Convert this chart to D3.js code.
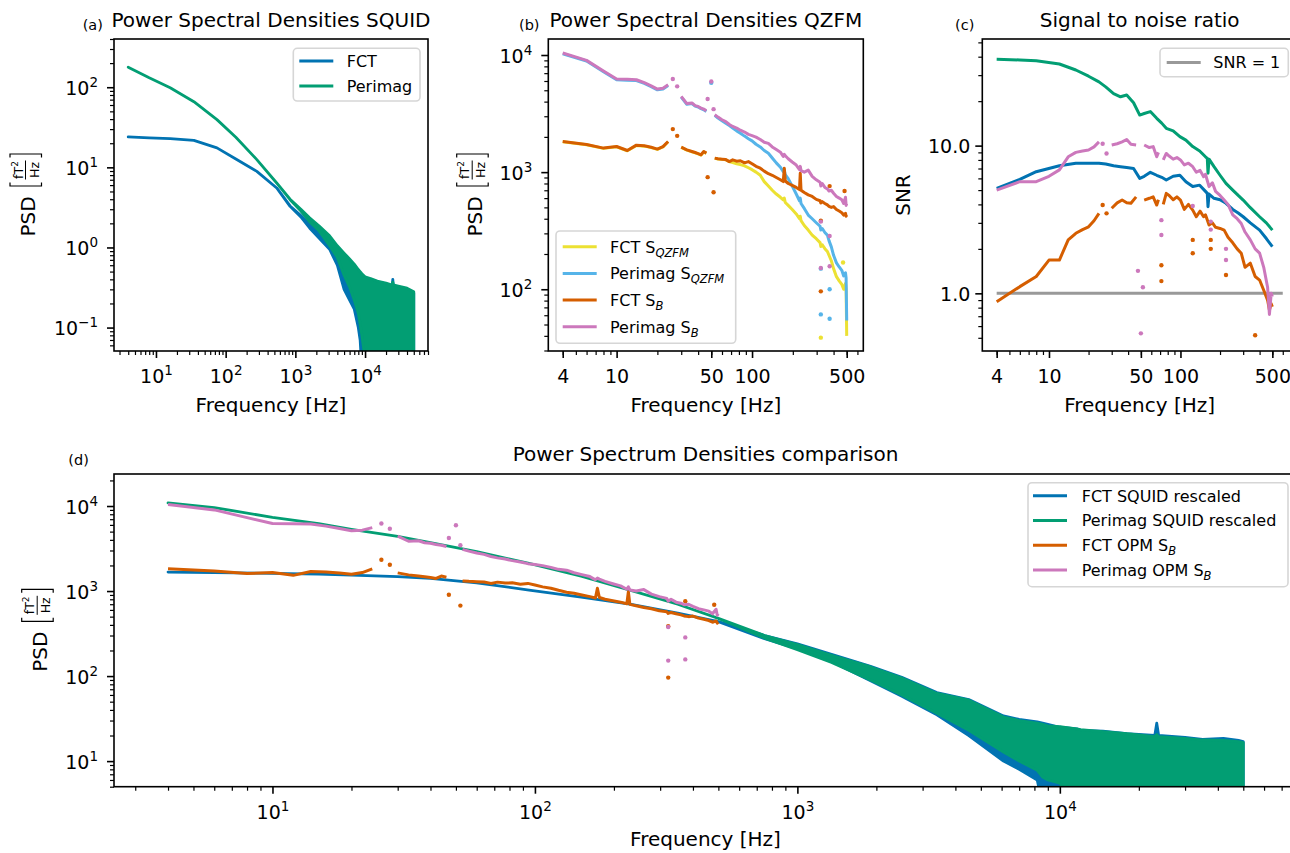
<!DOCTYPE html>
<html>
<head>
<meta charset="utf-8">
<script src="https://cdn.jsdelivr.net/npm/d3@7"></script>
<style>
  body { margin: 0; background: #fff; }
  svg { display: block; font-family: "DejaVu Sans", sans-serif; }
</style>
</head>
<body>
<svg id="fig"></svg>
<script>
// ---------- data ----------

// (a) SQUID PSDs, envelope of the noisy traces [fT^2/Hz]
var sqFreqA = [4, 8, 16, 35, 75, 140, 280, 540, 840, 1200, 1600, 2200, 3100, 4000, 5000,
               6000, 7000, 8000, 8500, 9000, 10000, 12000, 15000, 20000, 24500, 25000, 25500, 30000, 40000, 50000];
var fctSquidAHi = [24, 23.3, 22.8, 21.7, 17.5, 12.7, 8.9, 5.53, 3.3, 2.5, 1.95, 1.6, 1.3, 1.0, 0.8,
                   0.68, 0.58, 0.5, 0.48, 0.45, 0.41, 0.39, 0.36, 0.34, 0.33, 0.40, 0.33, 0.31, 0.29, 0.27];
var fctSquidALo = [24, 23.3, 22.8, 21.7, 17.5, 12.7, 8.9, 5.53, 3.26, 2.4, 1.75, 1.3, 0.95, 0.6, 0.3,
                   0.22, 0.17, 0.1, 0.07, 0.03, 0.03, 0.03, 0.03, 0.03, 0.03, 0.03, 0.03, 0.03, 0.03, 0.03];
var perimagSquidAHi = [178, 131, 98.4, 66, 39.4, 23.8, 12.5, 6.38, 4.0, 3.0, 2.35, 1.85, 1.4, 1.05, 0.85,
                       0.72, 0.62, 0.53, 0.5, 0.47, 0.43, 0.41, 0.38, 0.36, 0.34, 0.37, 0.34, 0.33, 0.31, 0.28];
var perimagSquidALo = [178, 131, 98.4, 66, 39.4, 23.8, 12.5, 6.38, 3.95, 2.85, 2.1, 1.6, 1.05, 0.75, 0.45,
                       0.32, 0.22, 0.15, 0.11, 0.08, 0.04, 0.04, 0.04, 0.04, 0.04, 0.04, 0.04, 0.04, 0.04, 0.04];

// (b) OPM PSDs (null = gap in the trace) [fT^2/Hz]
var opmFreq = [4, 6, 8, 10, 12, 14, 16, 18, 20, 22, 24, 25,
               30, 33, 36, 38, 40, 42, 44, 46, 47,
               53, 56, 60, 64, 68, 72, 77, 82, 88, 94, 100,
               107, 115, 123, 132, 141, 151, 162, 170, 173, 176,
               185, 198, 212, 224, 227, 230, 243, 260, 278, 298,
               318, 322, 330, 345, 360, 370, 385, 400, 420, 440,
               460, 475, 490, 495, 500];
var qzfmFct = [1815, 1710, 1595, 1645, 1520, 1690, 1667, 1620, 1563, 1640, 1815, null,
               1625, 1540, 1490, 1460, 1430, 1398, 1490, 1445, null,
               1310, 1295, 1285, 1275, 1225, 1208, 1180, 1160, 1130, 1090, 1050,
               1000, 940, 830, 760, 700, 650, 610, 580, 600, 550,
               520, 480, 440, 400, 420, 385, 350, 320, 290, 270,
               250, 232, 240, 222, 210, 195, 175, 150, 128, 118,
               110, 100, 112, 100, 40];
var qzfmPerimag = [10250, 8880, 7200, 6150, 6100, 6050, 5720, 5370, 5040, 5120, 5480, null,
                   4380, 3800, 3850, 3660, 3600, 3480, 3410, 3300, null,
                   3050, 2900, 2750, 2620, 2500, 2380, 2250, 2150, 2030, 1930, 1850,
                   1730, 1640, 1530, 1450, 1320, 1200, 1100, 1010, 1040, 950,
                   880, 760, 650, 570, 600, 540, 490, 430, 400, 370,
                   345, 320, 330, 305, 290, 260, 230, 195, 168, 155,
                   145, 130, 138, 125, 54];
var sbFct = [1826, 1720, 1604, 1655, 1530, 1700, 1677, 1630, 1573, 1650, 1826, null,
             1635, 1550, 1500, 1470, 1440, 1406, 1500, 1453, null,
             1317, 1300, 1290, 1280, 1230, 1273, 1240, 1250, 1200, 1230, 1180,
             1120, 1080, 1020, 970, 940, 900, 860, 830, 1080, 840,
             800, 770, 740, 710, 980, 700, 670, 640, 620, 585,
             570, 545, 560, 540, 525, 510, 500, 508, 480, 465,
             450, 430, 445, 420, 432];
var sbPerimag = [10400, 9000, 7300, 6240, 6200, 6150, 5800, 5450, 5120, 5200, 5570, null,
                 4430, 3850, 3900, 3700, 3640, 3520, 3450, 3340, null,
                 3090, 2950, 2800, 2700, 2550, 2455, 2380, 2280, 2200, 2100, 2050,
                 1990, 1900, 1800, 1760, 1640, 1560, 1480, 1360, 1420, 1380,
                 1300, 1220, 1150, 1050, 1120, 1030, 1000, 1040, 920, 860,
                 820, 760, 800, 740, 720, 690, 700, 660, 620, 600,
                 580, 540, 610, 520, 540];
// isolated samples drawn as dots
var qzfmFctDotF = [322, 470];
var qzfmFctDotV = [38.6, 169];
var qzfmPerimagDotF = [50, 322, 322, 374, 374];
var qzfmPerimagDotV = [5800, 150, 61, 100, 56];
var sbFctDotF = [26, 28, 47, 52, 322, 322, 374, 482];
var sbFctDotV = [2330, 2040, 906, 674, 385, 96, 760, 690];
var sbPerimagDotF = [26, 28, 47, 50, 52, 322, 322, 374, 374];
var sbPerimagDotV = [6240, 5400, 4210, 5940, 3450, 378, 152, 285, 157];

// (c) signal to noise ratio
var snrSquidFreq = [4, 6, 8, 12, 16, 20, 24, 27, 31, 35, 39, 44, 49, 53, 59, 66, 72, 78, 88, 99,
                    110, 124, 140, 155, 160, 162, 165, 180, 200, 222, 250, 275, 300, 340, 400, 450, 500];
var snrFctSquid = [5.14, 5.9, 6.66, 7.3, 7.6, 7.6, 7.6, 7.5, 7.3, 7.2, 7.1, 7.0, 6.0, 6.2, 6.6, 6.3, 6.1, 5.85, 6.2, 6.3,
                   5.7, 5.28, 5.4, 4.9, 4.75, 3.86, 4.7, 4.4, 4.3, 4.07, 3.7, 3.5, 3.3, 3.0, 2.68, 2.35, 2.07];
var snrPerimagSquid = [38.4, 38, 37.5, 35.7, 32.5, 29.5, 27, 25, 22.5, 21.4, 22, 19.5, 16.1, 16.5, 17, 15.3, 14.2, 13.1, 12.6, 11.5,
                       10.9, 9.85, 9.2, 8.4, 8.2, 6.5, 8.1, 7.2, 6.3, 5.55, 5.0, 4.6, 4.28, 3.8, 3.3, 3.0, 2.68];
var snrOpmFreq = [4, 6, 8, 10, 12, 14, 16, 18, 20, 22, 24, 25,
                  30, 33, 36, 39, 42, 46, 47,
                  53, 58, 62, 66, 68, 69,
                  74, 78, 82, 88, 94, 100,
                  107, 115, 124, 132, 141, 150,
                  155, 165, 175, 185, 200,
                  215, 230, 250, 270, 290,
                  310, 340, 370, 400, 430,
                  460, 475, 490, 500];
var snrFctOpm = [0.877, 1.11, 1.3, 1.68, 1.68, 2.3, 2.55, 2.7, 2.82, 3.1, 3.48, null,
                 3.77, 4.1, 4.28, 4.1, 4.07, 4.5, null,
                 4.28, 4.4, 4.5, 3.96, 4.3, null,
                 4.0, 4.75, 4.6, 4.3, 4.5, 4.28,
                 3.7, 4.0, 3.66, 3.3, 3.6, 3.3,
                 3.4, 2.9, 3.0, 2.8, 2.75,
                 2.68, 2.4, 2.2, 2.0, 1.87,
                 1.5, 1.6, 1.3, 1.23, 1.05,
                 0.9, 0.77, 0.85, 0.81];
var snrPerimagOpm = [5.0, 5.7, 5.7, 6.2, 6.85, 8.4, 9.0, 9.2, 9.34, 9.8, 10.6, null,
                     10.1, 10.3, 10.6, 11.0, 10.2, 10.1, null,
                     10.1, 9.7, 9.85, 8.4, 9.0, null,
                     8.0, 8.85, 8.5, 8.1, 8.3, 8.0,
                     7.4, 7.6, 7.2, 6.6, 6.8, 6.16,
                     6.4, 5.28, 5.6, 4.9, 4.6,
                     4.28, 4.0, 3.4, 3.2, 2.97,
                     2.6, 2.3, 2.0, 1.87, 1.5,
                     1.1, 0.72, 1.0, 0.95];
var snrFctDotF = [25.6, 27.4, 71.6, 71.6, 124, 124, 170, 170, 222, 370];
var snrFctDotV = [3.96, 3.48, 1.55, 1.21, 2.3, 1.87, 2.3, 2.0, 1.33, 0.52];
var snrPerimagDotF = [25.6, 27.4, 47.5, 50, 51.8, 71.6, 71.6, 124, 170, 170, 222, 222];
var snrPerimagDotV = [10.3, 8.85, 1.42, 0.536, 1.1, 3.13, 2.48, 3.9, 3.06, 2.7, 2.0, 1.68];
var snrOneF = [4, 600];
var snrOneV = [1, 1];

// (d) rescaled SQUID envelopes [fT^2/Hz]
var sqFreqD = [4, 6, 10, 15, 20, 30, 40, 60, 95, 150, 230, 350, 500, 750, 1000, 1350, 1900, 2500, 3400, 4500,
               6100, 7000, 8200, 8600, 9000, 10000, 11600, 12000, 14600, 18000, 23000, 23400, 23800, 30000, 35000,
               42000, 48000, 50000];
var fctSquidDHi = [1673, 1650, 1615, 1580, 1542, 1480, 1410, 1250, 1027, 850, 703, 550, 436, 300, 240, 180, 130, 97, 64, 53,
                   34, 31, 29, 28, 27, 25, 24, 23, 22.5, 21, 20, 27.9, 20, 19, 18, 18.5, 17.5, 17];
var fctSquidDLo = [1673, 1650, 1615, 1580, 1542, 1480, 1410, 1250, 1027, 850, 703, 550, 436, 275, 210, 148, 88, 58, 35, 20,
                   10, 8, 6, 3, 3, 3, 3, 3, 3, 3, 3, 3, 3, 3, 3, 3, 3, 3];
var perimagSquidDHi = [10900, 9600, 7360, 6200, 5320, 4400, 3700, 2900, 2120, 1500, 1027, 700, 477, 300, 235, 175, 128, 95, 62.5, 52,
                       33, 30, 27.9, 27, 26, 25.4, 24, 23.5, 22.2, 21, 19.4, 20.5, 19.4, 18.5, 17.7, 17.5, 16.9, 16.5];
var perimagSquidDLo = [10900, 9600, 7360, 6200, 5320, 4400, 3700, 2900, 2120, 1500, 1027, 700, 477, 280, 205, 145, 90, 60, 36.5, 23,
                       12.8, 10, 7.8, 6.5, 6, 5.5, 3, 3, 3, 3, 3, 3, 3, 3, 3, 3, 3, 3];

var titles = ["Power Spectral Densities SQUID", "Power Spectral Densities QZFM", "Signal to noise ratio",
              "Power Spectrum Densities comparison"];
var tags = ["(a)", "(b)", "(c)", "(d)"];

// ---------- drawing ----------
var W = 1290, H = 853;
var cBlue = "#0173b2", cGreen = "#029e73", cOrange = "#d55e00", cPink = "#cc78bc",
    cYellow = "#ece133", cSky = "#56b4e9", cGray = "#999999";

var svg = d3.select("#fig").attr("width", W).attr("height", H);

function panel(id, box, xDom, yDom) {
  var x = d3.scaleLog().domain(xDom).range([box.l, box.r]);
  var y = d3.scaleLog().domain(yDom).range([box.b, box.t]);
  svg.append("clipPath").attr("id", "clip-" + id).append("rect")
    .attr("x", box.l).attr("y", box.t).attr("width", box.r - box.l).attr("height", box.b - box.t);
  var plot = svg.append("g").attr("clip-path", "url(#clip-" + id + ")");
  return { x: x, y: y, plot: plot, box: box };
}

function pts(fs, vs) { return fs.map(function(f, i) { return { f: f, v: vs[i] }; }); }

function drawLine(p, fs, vs, color) {
  p.plot.append("path").datum(pts(fs, vs))
    .attr("fill", "none").attr("stroke", color).attr("stroke-width", 3)
    .attr("stroke-linejoin", "round")
    .attr("d", d3.line().defined(function(d) { return d.v != null; })
      .x(function(d) { return p.x(d.f); }).y(function(d) { return p.y(d.v); }));
}

function drawBand(p, fs, lo, hi, color) {
  var data = fs.map(function(f, i) { return { f: f, lo: lo[i], hi: hi[i] }; });
  p.plot.append("path").datum(data)
    .attr("fill", color).attr("stroke", color).attr("stroke-width", 2.8)
    .attr("stroke-linejoin", "round")
    .attr("d", d3.area().x(function(d) { return p.x(d.f); })
      .y0(function(d) { return p.y(d.lo); }).y1(function(d) { return p.y(d.hi); }));
}

function drawDots(p, fs, vs, color) {
  p.plot.append("g").selectAll("circle").data(pts(fs, vs)).enter().append("circle")
    .attr("cx", function(d) { return p.x(d.f); }).attr("cy", function(d) { return p.y(d.v); })
    .attr("r", 2.2).attr("fill", color);
}

function minorTicks(dom) {
  var out = [];
  for (var e = Math.floor(Math.log10(dom[0])); e <= Math.ceil(Math.log10(dom[1])); e++) {
    for (var k = 2; k <= 9; k++) {
      var v = k * Math.pow(10, e);
      if (v >= dom[0] && v <= dom[1]) out.push(v);
    }
  }
  return out;
}

function styleAxis(g, width) {
  g.select(".domain").remove();
  g.attr("font-size", 19).attr("font-family", "DejaVu Sans, sans-serif");
  g.selectAll(".tick line").attr("stroke", "#000").attr("stroke-width", width);
  g.selectAll(".tick text").attr("fill", "#000");
}

function mathText(sel) {
  sel.each(function(d) {
    var e = Math.round(Math.log10(d));
    var t = d3.select(this).text(null);
    t.append("tspan").text("10");
    t.append("tspan").attr("dy", -8).attr("font-size", 13.5).text((e < 0 ? "\u2212" : "") + Math.abs(e));
  });
}

function drawAxes(p, xMajor, xFmt, yMajor, yFmt) {
  var b = p.box;
  svg.append("g").attr("transform", "translate(0," + b.b + ")")
    .call(d3.axisBottom(p.x).tickValues(minorTicks(p.x.domain())).tickSize(4).tickFormat(function() { return ""; }))
    .call(styleAxis, 1.2);
  var gx = svg.append("g").attr("transform", "translate(0," + b.b + ")")
    .call(d3.axisBottom(p.x).tickValues(xMajor).tickSize(7).tickPadding(11.5)
      .tickFormat(xFmt || function() { return ""; }))
    .call(styleAxis, 1.6);
  if (!xFmt) gx.selectAll(".tick text").call(mathText);

  svg.append("g").attr("transform", "translate(" + b.l + ",0)")
    .call(d3.axisLeft(p.y).tickValues(minorTicks(p.y.domain())).tickSize(4).tickFormat(function() { return ""; }))
    .call(styleAxis, 1.2);
  var gy = svg.append("g").attr("transform", "translate(" + b.l + ",0)")
    .call(d3.axisLeft(p.y).tickValues(yMajor).tickSize(7).tickPadding(yFmt ? 5 : 9)
      .tickFormat(yFmt || function() { return ""; }))
    .call(styleAxis, 1.6);
  gy.selectAll(".tick text").attr("dy", "0.37em");
  if (!yFmt) gy.selectAll(".tick text").call(mathText);

  svg.append("rect").attr("x", b.l).attr("y", b.t).attr("width", b.r - b.l).attr("height", b.b - b.t)
    .attr("fill", "none").attr("stroke", "#000").attr("stroke-width", 1.6);
}

function texts(p, i, tagX, tagY, titleY, xlabY) {
  var b = p.box, cx = (b.l + b.r) / 2;
  svg.append("text").attr("x", cx).attr("y", titleY).attr("text-anchor", "middle")
    .attr("font-size", 20).text(titles[i]);
  svg.append("text").attr("x", tagX).attr("y", tagY).attr("font-size", 14.5).text(tags[i]);
  svg.append("text").attr("x", cx).attr("y", xlabY).attr("text-anchor", "middle")
    .attr("font-size", 20).text("Frequency [Hz]");
}

function psdLabel(bx, cy) {
  var g = svg.append("g").attr("transform", "translate(" + bx + "," + cy + ") rotate(-90)");
  g.append("text").attr("x", -41.5).attr("y", 0).attr("font-size", 20).text("PSD");
  g.append("path").attr("d", "M12.5,-25H9V6.5H12.5").attr("fill", "none").attr("stroke", "#000").attr("stroke-width", 1.2);
  g.append("path").attr("d", "M37.5,-25H41V6.5H37.5").attr("fill", "none").attr("stroke", "#000").attr("stroke-width", 1.2);
  var num = g.append("text").attr("x", 25).attr("y", -12.5).attr("text-anchor", "middle").attr("font-size", 12.5);
  num.append("tspan").text("fT");
  num.append("tspan").attr("dy", -5).attr("font-size", 9).text("2");
  g.append("line").attr("x1", 15.5).attr("x2", 34.5).attr("y1", -9.5).attr("y2", -9.5)
    .attr("stroke", "#000").attr("stroke-width", 1);
  g.append("text").attr("x", 25).attr("y", 3.5).attr("text-anchor", "middle").attr("font-size", 12.5).text("Hz");
}

function legend(box, rows) {
  svg.append("rect").attr("x", box.x).attr("y", box.y).attr("width", box.w).attr("height", box.h)
    .attr("rx", 4).attr("fill", "#fff").attr("fill-opacity", 0.8)
    .attr("stroke", "#d6d6d6").attr("stroke-width", 1.6);
  rows.forEach(function(r, i) {
    var yc = box.y0 + i * box.dy;
    svg.append("line").attr("x1", box.hx).attr("x2", box.hx + 34).attr("y1", yc).attr("y2", yc)
      .attr("stroke", r[1]).attr("stroke-width", 3);
    var t = svg.append("text").attr("x", box.tx).attr("y", yc + 5.8).attr("font-size", 16).text(r[0]);
    if (r[2]) t.append("tspan").attr("dy", 4).attr("font-size", 11.5).attr("font-style", "italic").text(r[2]);
  });
}

// ---- (a)
var pa = panel("a", { l: 114, r: 428, t: 39, b: 351 }, [2.5, 80000], [0.051, 400]);
drawBand(pa, sqFreqA, fctSquidALo, fctSquidAHi, cBlue);
drawBand(pa, sqFreqA, perimagSquidALo, perimagSquidAHi, cGreen);
drawAxes(pa, [10, 100, 1000, 10000], null, [0.1, 1, 10, 100], null);
texts(pa, 0, 82.7, 29.8, 26.5, 412);
psdLabel(35, 195);
legend({ x: 293.3, y: 48.3, w: 126.7, h: 52.7, y0: 61, dy: 25, hx: 299.3, tx: 346.7 },
  [["FCT", cBlue], ["Perimag", cGreen]]);

// ---- (b)
var pb = panel("b", { l: 548.3, r: 863.3, t: 39, b: 351 }, [3.13, 663], [29.7, 13700]);
drawLine(pb, opmFreq, qzfmFct, cYellow);
drawDots(pb, qzfmFctDotF, qzfmFctDotV, cYellow);
drawLine(pb, opmFreq, qzfmPerimag, cSky);
drawDots(pb, qzfmPerimagDotF, qzfmPerimagDotV, cSky);
drawLine(pb, opmFreq, sbFct, cOrange);
drawDots(pb, sbFctDotF, sbFctDotV, cOrange);
drawLine(pb, opmFreq, sbPerimag, cPink);
drawDots(pb, sbPerimagDotF, sbPerimagDotV, cPink);
drawAxes(pb, [4, 10, 50, 100, 500], d3.format("d"), [100, 1000, 10000], null);
texts(pb, 1, 519, 29.8, 26.5, 412);
psdLabel(481.7, 195);
legend({ x: 556, y: 231, w: 179.7, h: 112.3, y0: 246.7, dy: 26.7, hx: 562.7, tx: 610 },
  [["FCT S", cYellow, "QZFM"], ["Perimag S", cSky, "QZFM"], ["FCT S", cOrange, "B"], ["Perimag S", cPink, "B"]]);

// ---- (c)
var pc = panel("c", { l: 982.3, r: 1297, t: 39, b: 351 }, [3.11, 770], [0.407, 52.7]);
drawLine(pc, snrOneF, snrOneV, cGray);
drawLine(pc, snrSquidFreq, snrFctSquid, cBlue);
drawLine(pc, snrSquidFreq, snrPerimagSquid, cGreen);
drawLine(pc, snrOpmFreq, snrFctOpm, cOrange);
drawDots(pc, snrFctDotF, snrFctDotV, cOrange);
drawLine(pc, snrOpmFreq, snrPerimagOpm, cPink);
drawDots(pc, snrPerimagDotF, snrPerimagDotV, cPink);
drawAxes(pc, [4, 10, 50, 100, 500], d3.format("d"), [1, 10], d3.format(".1f"));
texts(pc, 2, 955, 29.8, 26.5, 412);
svg.append("text").attr("transform", "translate(910,195) rotate(-90)").attr("text-anchor", "middle")
  .attr("font-size", 20).text("SNR");
legend({ x: 1160, y: 48.3, w: 128.3, h: 28.4, y0: 62.5, dy: 0, hx: 1166.7, tx: 1213.3 },
  [["SNR = 1", cGray]]);

// ---- (d)
var pd = panel("d", { l: 114, r: 1297, t: 474, b: 786.7 }, [2.49, 80100], [5.0, 23800]);
drawBand(pd, sqFreqD, fctSquidDLo, fctSquidDHi, cBlue);
drawBand(pd, sqFreqD, perimagSquidDLo, perimagSquidDHi, cGreen);
drawLine(pd, opmFreq, sbFct, cOrange);
drawDots(pd, sbFctDotF, sbFctDotV, cOrange);
drawLine(pd, opmFreq, sbPerimag, cPink);
drawDots(pd, sbPerimagDotF, sbPerimagDotV, cPink);
drawAxes(pd, [10, 100, 1000, 10000], null, [10, 100, 1000, 10000], null);
texts(pd, 3, 68.3, 464.8, 461, 846);
psdLabel(46.7, 630.3);
legend({ x: 1028, y: 482.7, w: 260, h: 104, y0: 495.7, dy: 24.8, hx: 1033, tx: 1081.7 },
  [["FCT SQUID rescaled", cBlue], ["Perimag SQUID rescaled", cGreen], ["FCT OPM S", cOrange, "B"], ["Perimag OPM S", cPink, "B"]]);
</script>
</body>
</html>
